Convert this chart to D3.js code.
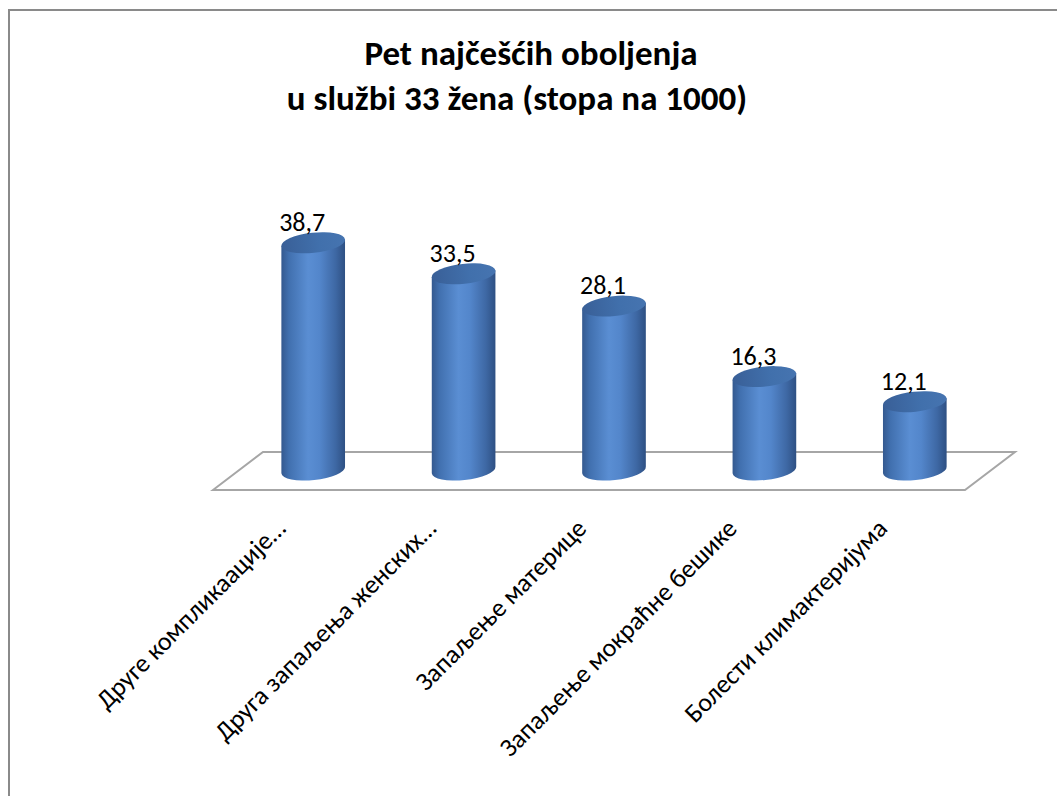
<!DOCTYPE html>
<meta charset="utf-8">
<script src="https://d3js.org/d3.v7.min.js"></script>
<style>
  body { margin: 0; background: #fff; }
  text { font-family: Carlito, "Open Sans", sans-serif; }
</style>
<div id="chart"></div>
<script>
// data
const categories = [
  "Друге компликаације…",
  "Друга запаљења женских…",
  "Запаљење материце",
  "Запаљење мокраћне бешике",
  "Болести климактеријума"
];
const values = [38.7, 33.5, 28.1, 16.3, 12.1];
const valueLabels = ["38,7", "33,5", "28,1", "16,3", "12,1"];
const titleLines = ["Pet najčešćih oboljenja", "u službi 33 žena (stopa na 1000)"];

const width = 1057, height = 796;

const svg = d3.select("#chart").append("svg")
    .attr("width", width)
    .attr("height", height);

// outer frame (only top and left edge visible)
svg.append("rect")
    .attr("x", 9).attr("y", 10)
    .attr("width", 1200).attr("height", 1000)
    .attr("fill", "none")
    .attr("stroke", "#8a8a8a")
    .attr("stroke-width", 2);

// title
svg.append("text").attr("x", 531).attr("y", 65)
    .attr("text-anchor", "middle").attr("font-size", 35).attr("font-weight", "bold")
    .text(titleLines[0]);
svg.append("text").attr("x", 517).attr("y", 110)
    .attr("text-anchor", "middle").attr("font-size", 35).attr("font-weight", "bold")
    .text(titleLines[1]);

// scales
const x = d3.scaleBand().domain(categories).range([213, 965]);
const y = d3.scaleLinear().domain([0, 40]).range([474, 235]);

// floor depth
const depthX = 50, depthY = -38;
const floorY = 490;

const floor = [
  [x.range()[0], floorY],
  [x.range()[0] + depthX, floorY + depthY],
  [x.range()[1] + depthX, floorY + depthY],
  [x.range()[1], floorY]
];
svg.append("path")
    .attr("d", d3.line()(floor) + "Z")
    .attr("fill", "#fff")
    .attr("stroke", "#a6a6a6")
    .attr("stroke-width", 2);

// gradients
const defs = svg.append("defs");
const bodyGrad = defs.append("linearGradient").attr("id", "body")
    .attr("x1", 0).attr("x2", 1).attr("y1", 0).attr("y2", 0);
[[0, "#34598f"], [0.12, "#4170af"], [0.42, "#5a8ed3"], [0.6, "#5386cb"], [0.85, "#3e68a4"], [1, "#2e5083"]]
  .forEach(s => bodyGrad.append("stop").attr("offset", s[0]).attr("stop-color", s[1]));
const topGrad = defs.append("linearGradient").attr("id", "top")
    .attr("x1", 0).attr("x2", 1).attr("y1", 0).attr("y2", 0);
[[0, "#395f97"], [0.6, "#4170ac"], [1, "#4674b0"]]
  .forEach(s => topGrad.append("stop").attr("offset", s[0]).attr("stop-color", s[1]));

const rx = 32, ry = 10, tilt = -6;
const t = tilt * Math.PI / 180;
const ex = rx * Math.cos(t), ey = rx * Math.sin(t);
const baseY = floorY + depthY / 2 - 1;

const cx = d => x(d) + x.bandwidth() / 2 + depthX / 2;

const bars = svg.append("g").selectAll("g")
    .data(categories)
    .join("g");

bars.append("path")
    .attr("fill", "url(#body)")
    .attr("d", (d, i) => {
      const c = cx(d), yt = y(values[i]);
      return `M${c - ex},${yt - ey} L${c - ex},${baseY - ey} ` +
             `A${rx},${ry} ${tilt} 0 0 ${c + ex},${baseY + ey} ` +
             `L${c + ex},${yt + ey} Z`;
    });

bars.append("ellipse")
    .attr("cx", 0).attr("cy", 0)
    .attr("rx", rx).attr("ry", ry)
    .attr("fill", "url(#top)")
    .attr("transform", (d, i) => `translate(${cx(d)},${y(values[i])}) rotate(${tilt})`);

// value labels
bars.append("text")
    .attr("x", d => cx(d) - 11)
    .attr("y", (d, i) => y(values[i]) - 12)
    .attr("text-anchor", "middle")
    .attr("font-size", 26)
    .attr("fill", "#000")
    .text((d, i) => valueLabels[i]);

// category labels
svg.append("g").selectAll("text")
    .data(categories)
    .join("text")
    .attr("text-anchor", "end")
    .attr("font-size", 26)
    .attr("transform", d => `translate(${cx(d) - 26},${530}) rotate(-45)`)
    .text(d => d);
</script>
